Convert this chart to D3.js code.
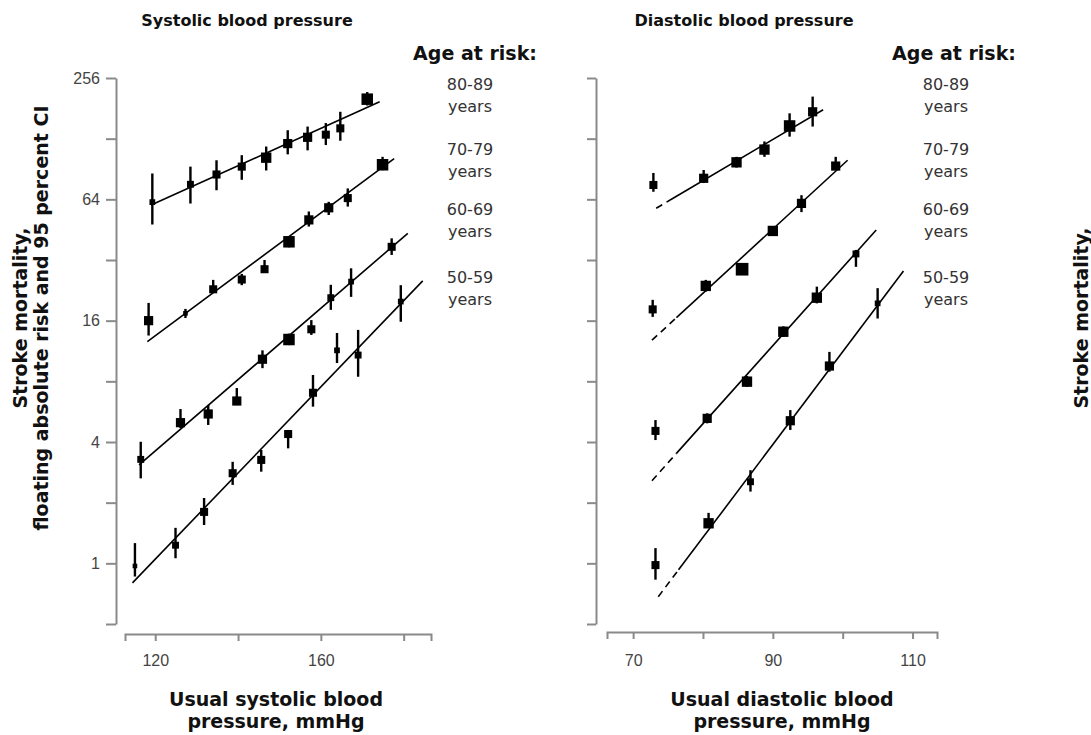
<!DOCTYPE html>
<html>
<head>
<meta charset="utf-8">
<script src="https://cdn.jsdelivr.net/npm/d3@7"></script>
<style>
  body { margin: 0; background: #fff; }
  svg { display: block; font-family: "DejaVu Sans", Verdana, sans-serif; }
</style>
</head>
<body>
<svg id="chart" width="1091" height="735"></svg>
<script>
// Age bands, top to bottom
const ageGroups = ["80-89", "70-79", "60-69", "50-59"];

// Systolic: [usual SBP mmHg, risk, lower 95% CI, upper 95% CI, weight]
const sys8089 = [[119.3, 62, 48, 86, 5], [128.5, 76, 61, 93, 6], [134.8, 85, 71, 100, 7], [140.9, 93, 80, 106, 7], [146.8, 103, 89, 117, 9],
                 [152.0, 121, 107, 141, 8], [156.8, 130, 112, 147, 8], [161.2, 134, 119, 153, 7], [164.7, 144, 125, 174, 7], [171.2, 201, 187, 218, 10]];
const sys7079 = [[118.4, 16.0, 13.5, 19.6, 8], [127.3, 17.4, 16.5, 18.3, 4], [134.0, 22.9, 22.0, 25.5, 7], [140.9, 25.6, 24.0, 27.3, 7], [146.4, 28.8, 27.7, 32.0, 7],
                 [152.3, 39.4, 37.0, 42.0, 10], [157.1, 50.6, 46.9, 55.7, 8], [161.9, 58.1, 53.5, 62.2, 8], [166.5, 64.9, 58.9, 72.5, 7], [174.9, 95.0, 89.3, 104, 10]];
const sys6069 = [[116.5, 3.28, 2.64, 4.01, 6], [126.1, 4.99, 4.69, 5.83, 8], [132.8, 5.51, 4.86, 6.10, 8], [139.7, 6.39, 6.10, 7.41, 8], [145.9, 10.3, 9.3, 11.4, 8],
                 [152.3, 12.9, 12.1, 13.8, 10], [157.7, 14.5, 13.6, 16.1, 7], [162.4, 20.8, 18.1, 24.1, 6], [167.3, 25.0, 21.0, 29.1, 5], [177.1, 37.2, 33.9, 41.0, 7]];
const sys5059 = [[115.1, 0.97, 0.86, 1.26, 4], [124.9, 1.23, 1.06, 1.50, 6], [131.8, 1.80, 1.55, 2.11, 7], [138.7, 2.80, 2.45, 3.19, 7], [145.6, 3.26, 2.85, 3.65, 7],
                 [152.1, 4.38, 3.72, 4.59, 7], [158.1, 7.02, 5.99, 8.60, 7], [163.9, 11.4, 9.86, 13.9, 5], [169.0, 10.8, 8.43, 14.4, 6], [179.3, 19.9, 15.8, 24.0, 5]];

// Diastolic: [usual DBP mmHg, risk, lower 95% CI, upper 95% CI, weight]
const dia8089 = [[72.9, 75.4, 69.8, 86.5, 7], [80.1, 81.4, 77.1, 89.5, 8], [84.8, 97.7, 92, 104, 9], [88.8, 113, 104, 124, 9], [92.4, 148, 131, 171, 10], [95.7, 174, 147, 207, 8]];
const dia7079 = [[72.8, 18.2, 16.7, 20.3, 7], [80.4, 23.8, 22.3, 25.5, 9], [85.6, 28.8, 27.5, 30.2, 11], [90.0, 44.6, 42.5, 46.8, 9], [94.1, 61.1, 55.3, 67.1, 8], [99.0, 93.6, 89.3, 104, 8]];
const dia6069 = [[73.2, 4.54, 4.09, 5.14, 7], [80.6, 5.24, 4.95, 5.55, 8], [86.3, 7.97, 7.5, 8.5, 9], [91.5, 14.1, 13.3, 15.0, 9], [96.3, 20.8, 19.5, 23.6, 9], [101.9, 34.3, 29.6, 35.9, 6]];
const dia5059 = [[73.2, 0.98, 0.83, 1.19, 7], [80.8, 1.58, 1.50, 1.78, 9], [86.8, 2.54, 2.27, 2.90, 6], [92.5, 5.10, 4.59, 5.76, 8], [98.1, 9.53, 8.93, 11.2, 8], [105.0, 19.5, 16.4, 23.2, 5]];

// Fitted lines: [x start, risk at start, x end, risk at end]
const sysFits = [[119.0, 60, 174.2, 195], [118.1, 12.6, 177.7, 102], [116.1, 3.08, 181.0, 43.4], [114.5, 0.80, 184.6, 25.2]];
// Diastolic fits are dashed below the observed range: [x start, risk at start, x where solid begins, x end, risk at end]
const diaFits = [[73.3, 57.8, 75.3, 97.2, 178], [72.7, 12.8, 76.2, 100.7, 100], [72.7, 2.57, 76.2, 104.8, 45.1], [73.6, 0.683, 76.5, 108.7, 28.2]];

const riskTicks = [0.5, 1, 2, 4, 8, 16, 32, 64, 128, 256];
const riskLabels = [1, 4, 16, 64, 256];
const sysTicks = [120, 140, 160, 180];
const sysLabels = [120, 160];
const diaTicks = [70, 80, 90, 100, 110];
const diaLabels = [70, 90, 110];

const svg = d3.select("#chart");
const axisGrey = "#8a8a8a";

const y = d3.scaleLog().base(2).domain([0.5, 256]).range([624, 78]);
const xSys = d3.scaleLinear().domain([112.7, 186.6]).range([125, 431]);
const xDia = d3.scaleLinear().domain([66.26, 113.5]).range([607, 937]);
const size = d3.scaleLinear().domain([0, 10]).range([0, 11.5]);

function styleAxis(g) {
  g.attr("color", axisGrey);
  g.selectAll("path.domain, line").attr("stroke-width", 2);
  g.selectAll("text").attr("fill", "#444").attr("font-size", 16);
}

// y axes
svg.append("g").attr("transform", "translate(116,0)")
  .call(d3.axisLeft(y).tickValues(riskTicks).tickFormat(d => riskLabels.includes(d) ? d : "").tickSize(10).tickSizeOuter(0).tickPadding(6))
  .call(styleAxis);
svg.append("g").attr("transform", "translate(596,0)")
  .call(d3.axisLeft(y).tickValues(riskTicks).tickFormat("").tickSize(9).tickSizeOuter(0))
  .call(styleAxis);

// x axes
svg.append("g").attr("transform", "translate(0,634)")
  .call(d3.axisBottom(xSys).tickValues(sysTicks).tickFormat(d => sysLabels.includes(d) ? d : "").tickSize(7).tickSizeOuter(7).tickPadding(14))
  .call(styleAxis);
svg.append("g").attr("transform", "translate(0,632)")
  .call(d3.axisBottom(xDia).tickValues(diaTicks).tickFormat(d => diaLabels.includes(d) ? d : "").tickSize(7).tickSizeOuter(7).tickPadding(16))
  .call(styleAxis);

function drawSeries(x, rows) {
  const g = svg.append("g");
  g.selectAll("line.ci").data(rows).join("line")
    .attr("x1", d => x(d[0])).attr("x2", d => x(d[0]))
    .attr("y1", d => y(d[2])).attr("y2", d => y(d[3]))
    .attr("stroke", "#000").attr("stroke-width", 2.4);
  g.selectAll("rect").data(rows).join("rect")
    .attr("x", d => x(d[0]) - size(d[4]) / 2)
    .attr("y", d => y(d[1]) - size(d[4]) / 2)
    .attr("width", d => size(d[4])).attr("height", d => size(d[4]))
    .attr("fill", "#000");
}

[sys8089, sys7079, sys6069, sys5059].forEach(rows => drawSeries(xSys, rows));
[dia8089, dia7079, dia6069, dia5059].forEach(rows => drawSeries(xDia, rows));

sysFits.forEach(f => {
  svg.append("line")
    .attr("x1", xSys(f[0])).attr("y1", y(f[1]))
    .attr("x2", xSys(f[2])).attr("y2", y(f[3]))
    .attr("stroke", "#000").attr("stroke-width", 1.6);
});

diaFits.forEach(f => {
  const x0 = xDia(f[0]), y0 = y(f[1]), x1 = xDia(f[3]), y1 = y(f[4]);
  const xs = xDia(f[2]);
  const ys = y0 + (y1 - y0) * (xs - x0) / (x1 - x0);
  svg.append("line").attr("x1", x0).attr("y1", y0).attr("x2", xs).attr("y2", ys)
    .attr("stroke", "#000").attr("stroke-width", 1.6).attr("stroke-dasharray", "7,5");
  svg.append("line").attr("x1", xs).attr("y1", ys).attr("x2", x1).attr("y2", y1)
    .attr("stroke", "#000").attr("stroke-width", 1.6);
});

// Titles
const bold = (sel) => sel.attr("font-weight", "bold").attr("fill", "#111");
svg.append("text").attr("x", 247).attr("y", 26).attr("text-anchor", "middle").attr("font-size", 16).text("Systolic blood pressure").call(bold);
svg.append("text").attr("x", 744).attr("y", 26).attr("text-anchor", "middle").attr("font-size", 16).text("Diastolic blood pressure").call(bold);

// Age band labels
const bandBaselines = [90, 155, 215, 283];
[[475, 470], [954, 946]].forEach(([hx, cx]) => {
  svg.append("text").attr("x", hx).attr("y", 60).attr("text-anchor", "middle").attr("font-size", 19).text("Age at risk:").call(bold);
  ageGroups.forEach((a, i) => {
    const t = svg.append("text").attr("x", cx).attr("y", bandBaselines[i]).attr("text-anchor", "middle")
      .attr("font-size", 16).attr("fill", "#333");
    t.append("tspan").attr("x", cx).text(a);
    t.append("tspan").attr("x", cx).attr("dy", 22).text("years");
  });
});

// Axis titles
function vTitle(x, yc, text) {
  svg.append("text").attr("transform", `translate(${x},${yc}) rotate(-90)`)
    .attr("text-anchor", "middle").attr("font-size", 19).text(text).call(bold);
}
vTitle(27, 318, "Stroke mortality,");
vTitle(48, 318, "floating absolute risk and 95 percent CI");
vTitle(1088, 318, "Stroke mortality,");

function hTitle(cx, lines) {
  lines.forEach((l, i) => {
    svg.append("text").attr("x", cx).attr("y", 706 + i * 22).attr("text-anchor", "middle")
      .attr("font-size", 19).text(l).call(bold);
  });
}
hTitle(276, ["Usual systolic blood", "pressure, mmHg"]);
hTitle(782, ["Usual diastolic blood", "pressure, mmHg"]);
</script>
</body>
</html>
